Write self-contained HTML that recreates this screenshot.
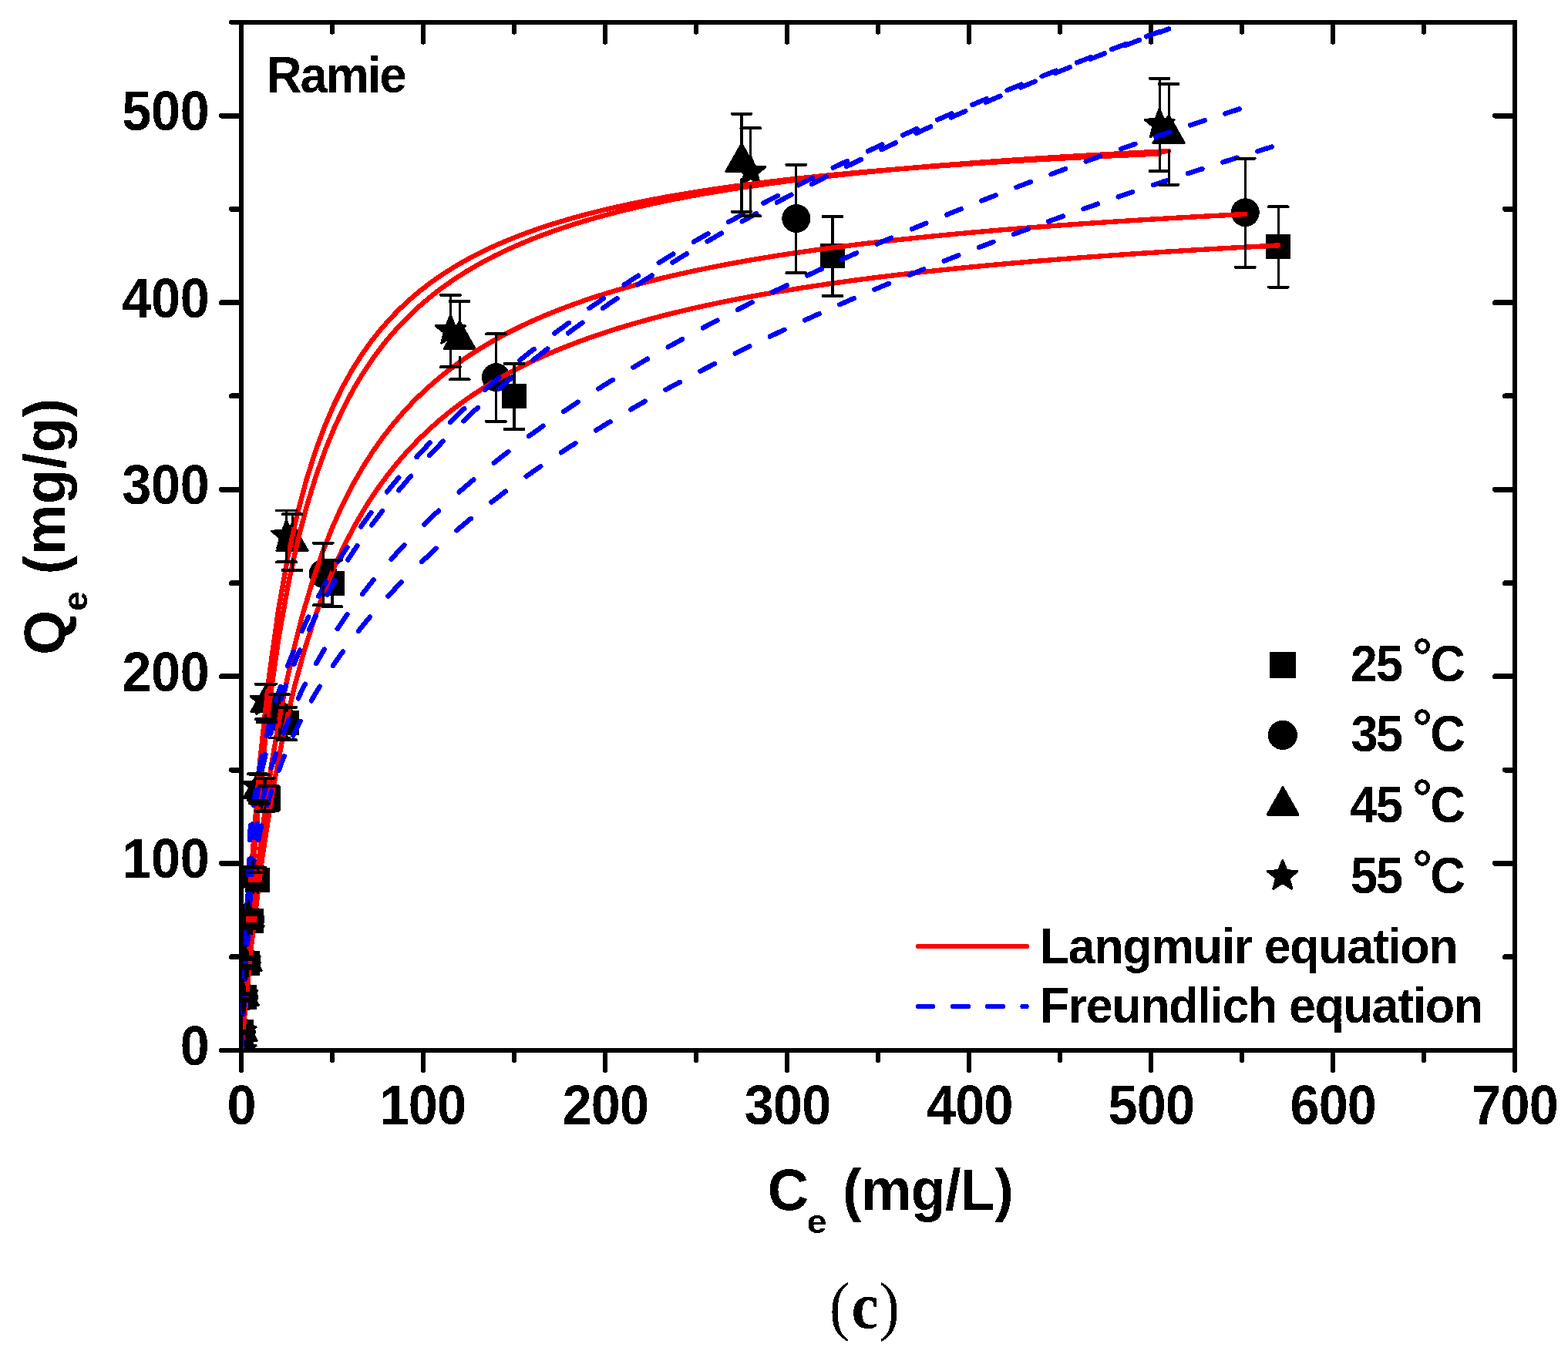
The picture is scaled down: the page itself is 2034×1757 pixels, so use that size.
<!DOCTYPE html>
<html lang="en"><head><meta charset="utf-8"><title>Ramie</title>
<style>html,body{margin:0;padding:0;background:#fff}body{width:2034px;height:1757px;overflow:hidden}svg{display:block}text{fill:#000}.b{stroke:#000;stroke-width:2.4px;stroke-linejoin:bevel}</style>
</head><body>
<svg width="2034" height="1757" viewBox="0 0 2034 1757">
<rect width="2034" height="1757" fill="#fff"/>
<defs><filter id="bw" filterUnits="userSpaceOnUse" x="0" y="0" width="2034" height="1757" color-interpolation-filters="sRGB"><feComponentTransfer><feFuncA type="discrete" tableValues="0 1"/></feComponentTransfer></filter><clipPath id="fr"><rect x="312" y="28.8" width="1653" height="1334.2"/></clipPath></defs>
<g fill="none" stroke="#000" stroke-linecap="round" shape-rendering="crispEdges">
<rect x="313" y="28.8" width="1652" height="1334.2" stroke-width="6" stroke-linejoin="miter"/>
<path d="M313 1364V1389M313 29.8V54.8M431 1364V1376M431 29.8V41.8M549 1364V1389M549 29.8V54.8M667 1364V1376M667 29.8V41.8M785 1364V1389M785 29.8V54.8M903 1364V1376M903 29.8V41.8M1021 1364V1389M1021 29.8V54.8M1139 1364V1376M1139 29.8V41.8M1257 1364V1389M1257 29.8V54.8M1375 1364V1376M1375 29.8V41.8M1493 1364V1389M1493 29.8V54.8M1611 1364V1376M1611 29.8V41.8M1729 1364V1389M1729 29.8V54.8M1847 1364V1376M1847 29.8V41.8M1965 1364V1389M1965 29.8V54.8M312 1363H287M1964 1363H1939M312 28.8H300M1964 28.8H1952" stroke-width="6"/>
<path d="M312 1241.71H300.5M1964 1241.71H1952.5M312 1120.42H287.5M1964 1120.42H1939.5M312 999.13H300.5M1964 999.13H1952.5M312 877.84H287.5M1964 877.84H1939.5M312 756.55H300.5M1964 756.55H1952.5M312 635.25H287.5M1964 635.25H1939.5M312 513.96H300.5M1964 513.96H1952.5M312 392.67H287.5M1964 392.67H1939.5M312 271.38H300.5M1964 271.38H1952.5M312 150.09H287.5M1964 150.09H1939.5" stroke-width="7"/>
</g>
<g clip-path="url(#fr)">
<g fill="#000" shape-rendering="crispEdges">
<rect x="297" y="1347" width="32" height="32"/>
<rect x="297.24" y="1322.98" width="32" height="32"/>
<rect x="301.01" y="1278.35" width="32" height="32"/>
<rect x="305.26" y="1234.2" width="32" height="32"/>
<rect x="310.45" y="1178.89" width="32" height="32"/>
<rect x="318.24" y="1126.25" width="32" height="32"/>
<rect x="332.4" y="1019.51" width="32" height="32"/>
<rect x="356" y="922.48" width="32" height="32"/>
<rect x="415" y="740.55" width="32" height="32"/>
<rect x="651" y="497.96" width="32" height="32"/>
<rect x="1064" y="316.03" width="32" height="32"/>
<rect x="1642.2" y="303.9" width="32" height="32"/>
<circle cx="313" cy="1363" r="18.5"/>
<circle cx="313.24" cy="1338.98" r="18.5"/>
<circle cx="316.3" cy="1293.62" r="18.5"/>
<circle cx="320.08" cy="1248.99" r="18.5"/>
<circle cx="324.8" cy="1193.19" r="18.5"/>
<circle cx="331.88" cy="1139.82" r="18.5"/>
<circle cx="343.68" cy="1030.66" r="18.5"/>
<circle cx="362.56" cy="928.78" r="18.5"/>
<circle cx="419.2" cy="744.42" r="18.5"/>
<circle cx="643.4" cy="489.71" r="18.5"/>
<circle cx="1032.8" cy="283.51" r="18.5"/>
<circle cx="1615.25" cy="275.75" r="18.5"/>
<polygon class="b" points="313,1338.4 333.7,1375.1 292.3,1375.1"/>
<polygon class="b" points="313.12,1314.26 333.82,1350.96 292.42,1350.96"/>
<polygon class="b" points="315.12,1267.81 335.82,1304.51 294.42,1304.51"/>
<polygon class="b" points="318.9,1223.17 339.6,1259.87 298.2,1259.87"/>
<polygon class="b" points="321.97,1165.68 342.67,1202.38 301.27,1202.38"/>
<polygon class="b" points="328.81,1112.07 349.51,1148.77 308.11,1148.77"/>
<polygon class="b" points="336.6,998.79 357.3,1035.49 315.9,1035.49"/>
<polygon class="b" points="346.04,887.2 366.74,923.9 325.34,923.9"/>
<polygon class="b" points="379.08,678.58 399.78,715.28 358.38,715.28"/>
<polygon class="b" points="596.2,416.59 616.9,453.29 575.5,453.29"/>
<polygon class="b" points="962,186.14 982.7,222.84 941.3,222.84"/>
<polygon class="b" points="1516.13,149.26 1536.83,185.96 1495.43,185.96"/>
<polygon class="b" points="313,1342.1 318.29,1355.72 332.88,1356.54 321.56,1365.78 325.28,1379.91 313,1372 300.72,1379.91 304.44,1365.78 293.12,1356.54 307.71,1355.72"/>
<polygon class="b" points="313.12,1317.96 318.41,1331.58 333,1332.4 321.68,1341.64 325.4,1355.77 313.12,1347.86 300.83,1355.77 304.56,1341.64 293.24,1332.4 307.83,1331.58"/>
<polygon class="b" points="314.65,1271.02 319.94,1284.64 334.53,1285.47 323.21,1294.7 326.94,1308.83 314.65,1300.92 302.37,1308.83 306.09,1294.7 294.77,1285.47 309.36,1284.64"/>
<polygon class="b" points="318.19,1226.15 323.48,1239.76 338.07,1240.59 326.75,1249.83 330.48,1263.95 318.19,1256.05 305.91,1263.95 309.63,1249.83 298.31,1240.59 312.9,1239.76"/>
<polygon class="b" points="321.02,1168.41 326.31,1182.03 340.9,1182.85 329.58,1192.09 333.31,1206.22 321.02,1198.31 308.74,1206.22 312.46,1192.09 301.15,1182.85 315.73,1182.03"/>
<polygon class="b" points="327.63,1114.56 332.92,1128.18 347.51,1129 336.19,1138.24 339.92,1152.37 327.63,1144.46 315.35,1152.37 319.07,1138.24 307.75,1129 322.34,1128.18"/>
<polygon class="b" points="334.24,1000.06 339.53,1013.68 354.12,1014.5 342.8,1023.74 346.52,1037.87 334.24,1029.96 321.96,1037.87 325.68,1023.74 314.36,1014.5 328.95,1013.68"/>
<polygon class="b" points="344.39,889.2 349.68,902.82 364.27,903.64 352.95,912.88 356.67,927.01 344.39,919.1 332.1,927.01 335.83,912.88 324.51,903.64 339.1,902.82"/>
<polygon class="b" points="371.53,674.51 376.82,688.13 391.41,688.96 380.09,698.2 383.81,712.32 371.53,704.41 359.24,712.32 362.97,698.2 351.65,688.96 366.24,688.13"/>
<polygon class="b" points="584.4,408.16 589.69,421.78 604.28,422.6 592.96,431.84 596.68,445.97 584.4,438.06 572.12,445.97 575.84,431.84 564.52,422.6 579.11,421.78"/>
<polygon class="b" points="973.8,201.97 979.09,215.58 993.68,216.41 982.36,225.65 986.08,239.77 973.8,231.87 961.52,239.77 965.24,225.65 953.92,216.41 968.51,215.58"/>
<polygon class="b" points="1504.09,140.59 1509.38,154.21 1523.97,155.03 1512.65,164.27 1516.38,178.4 1504.09,170.49 1491.81,178.4 1495.53,164.27 1484.21,155.03 1498.8,154.21"/>
</g>
<g fill="none" stroke="#f00" stroke-width="6.4" stroke-linecap="round" stroke-linejoin="round" shape-rendering="crispEdges">
<path d="M313 1363 L326.59 1222.3 L340.18 1113.06 L353.76 1025.79 L367.35 954.46 L380.94 895.08 L394.53 844.88 L408.12 801.87 L421.7 764.62 L435.29 732.04 L448.88 703.31 L462.47 677.78 L476.05 654.95 L489.64 634.4 L503.23 615.82 L516.82 598.93 L530.41 583.51 L543.99 569.38 L557.58 556.38 L571.17 544.39 L584.76 533.28 L598.35 522.97 L611.93 513.38 L625.52 504.42 L639.11 496.04 L652.7 488.19 L666.28 480.81 L679.87 473.87 L693.46 467.33 L707.05 461.15 L720.64 455.3 L734.22 449.77 L747.81 444.51 L761.4 439.52 L774.99 434.78 L788.58 430.26 L802.16 425.95 L815.75 421.83 L829.34 417.9 L842.93 414.14 L856.52 410.54 L870.1 407.09 L883.69 403.79 L897.28 400.61 L910.87 397.56 L924.45 394.63 L938.04 391.8 L951.63 389.09 L965.22 386.47 L978.81 383.94 L992.39 381.5 L1005.98 379.15 L1019.57 376.88 L1033.16 374.68 L1046.75 372.56 L1060.33 370.5 L1073.92 368.51 L1087.51 366.58 L1101.1 364.71 L1114.68 362.9 L1128.27 361.14 L1141.86 359.43 L1155.45 357.78 L1169.04 356.17 L1182.62 354.6 L1196.21 353.08 L1209.8 351.6 L1223.39 350.16 L1236.98 348.76 L1250.56 347.4 L1264.15 346.07 L1277.74 344.78 L1291.33 343.52 L1304.92 342.29 L1318.5 341.09 L1332.09 339.92 L1345.68 338.77 L1359.27 337.66 L1372.85 336.57 L1386.44 335.51 L1400.03 334.47 L1413.62 333.45 L1427.21 332.46 L1440.79 331.49 L1454.38 330.54 L1467.97 329.61 L1481.56 328.7 L1495.15 327.81 L1508.73 326.94 L1522.32 326.09 L1535.91 325.26 L1549.5 324.44 L1563.08 323.64 L1576.67 322.85 L1590.26 322.08 L1603.85 321.33 L1617.44 320.59 L1631.02 319.86 L1644.61 319.15 L1658.2 318.46"/>
<path d="M313 1363 L326.15 1204.72 L339.31 1084.63 L352.46 990.38 L365.62 914.46 L378.77 851.98 L391.92 799.67 L405.08 755.23 L418.23 717.01 L431.39 683.79 L444.54 654.65 L457.69 628.88 L470.85 605.92 L484 585.35 L497.16 566.8 L510.31 550 L523.46 534.7 L536.62 520.72 L549.77 507.89 L562.93 496.07 L576.08 485.15 L589.23 475.04 L602.39 465.63 L615.54 456.87 L628.7 448.69 L641.85 441.03 L655 433.85 L668.16 427.1 L681.31 420.74 L694.47 414.74 L707.62 409.07 L720.77 403.71 L733.93 398.62 L747.08 393.8 L760.24 389.21 L773.39 384.85 L786.54 380.69 L799.7 376.73 L812.85 372.94 L826.01 369.32 L839.16 365.86 L852.31 362.54 L865.47 359.36 L878.62 356.31 L891.78 353.39 L904.93 350.57 L918.08 347.86 L931.24 345.26 L944.39 342.75 L957.55 340.33 L970.7 338 L983.86 335.75 L997.01 333.57 L1010.16 331.47 L1023.32 329.44 L1036.47 327.48 L1049.63 325.58 L1062.78 323.74 L1075.93 321.95 L1089.09 320.22 L1102.24 318.55 L1115.4 316.92 L1128.55 315.34 L1141.7 313.8 L1154.86 312.31 L1168.01 310.87 L1181.17 309.46 L1194.32 308.09 L1207.47 306.75 L1220.63 305.46 L1233.78 304.19 L1246.94 302.96 L1260.09 301.76 L1273.24 300.59 L1286.4 299.45 L1299.55 298.34 L1312.71 297.25 L1325.86 296.19 L1339.01 295.16 L1352.17 294.15 L1365.32 293.16 L1378.48 292.2 L1391.63 291.26 L1404.78 290.34 L1417.94 289.44 L1431.09 288.56 L1444.25 287.7 L1457.4 286.85 L1470.55 286.03 L1483.71 285.22 L1496.86 284.43 L1510.02 283.65 L1523.17 282.89 L1536.32 282.15 L1549.48 281.42 L1562.63 280.71 L1575.79 280.01 L1588.94 279.32 L1602.09 278.64 L1615.25 277.98"/>
<path d="M313 1363 L325.15 1163.67 L337.31 1020.03 L349.46 911.6 L361.61 826.84 L373.76 758.77 L385.92 702.9 L398.07 656.22 L410.22 616.63 L422.38 582.64 L434.53 553.13 L446.68 527.27 L458.83 504.43 L470.99 484.1 L483.14 465.89 L495.29 449.49 L507.44 434.64 L519.6 421.14 L531.75 408.79 L543.9 397.47 L556.06 387.05 L568.21 377.43 L580.36 368.51 L592.51 360.23 L604.67 352.52 L616.82 345.31 L628.97 338.57 L641.13 332.25 L653.28 326.31 L665.43 320.72 L677.58 315.45 L689.74 310.46 L701.89 305.75 L714.04 301.28 L726.2 297.04 L738.35 293.02 L750.5 289.18 L762.65 285.53 L774.81 282.05 L786.96 278.73 L799.11 275.55 L811.27 272.51 L823.42 269.61 L835.57 266.82 L847.72 264.14 L859.88 261.57 L872.03 259.1 L884.18 256.73 L896.33 254.45 L908.49 252.25 L920.64 250.13 L932.79 248.08 L944.95 246.11 L957.1 244.2 L969.25 242.36 L981.4 240.58 L993.56 238.86 L1005.71 237.19 L1017.86 235.58 L1030.02 234.02 L1042.17 232.5 L1054.32 231.03 L1066.47 229.61 L1078.63 228.22 L1090.78 226.88 L1102.93 225.57 L1115.09 224.31 L1127.24 223.07 L1139.39 221.87 L1151.54 220.7 L1163.7 219.57 L1175.85 218.46 L1188 217.38 L1200.15 216.33 L1212.31 215.31 L1224.46 214.31 L1236.61 213.34 L1248.77 212.39 L1260.92 211.46 L1273.07 210.56 L1285.22 209.67 L1297.38 208.81 L1309.53 207.97 L1321.68 207.14 L1333.84 206.34 L1345.99 205.55 L1358.14 204.78 L1370.29 204.02 L1382.45 203.28 L1394.6 202.56 L1406.75 201.86 L1418.91 201.16 L1431.06 200.49 L1443.21 199.82 L1455.36 199.17 L1467.52 198.53 L1479.67 197.91 L1491.82 197.29 L1503.98 196.69 L1516.13 196.1"/>
<path d="M313 1363 L325.03 1142.48 L337.06 989.63 L349.09 877.46 L361.12 791.62 L373.16 723.83 L385.19 668.93 L397.22 623.56 L409.25 585.44 L421.28 552.96 L433.31 524.96 L445.34 500.57 L457.37 479.13 L469.41 460.14 L481.44 443.19 L493.47 427.99 L505.5 414.27 L517.53 401.82 L529.56 390.48 L541.59 380.1 L553.62 370.57 L565.66 361.79 L577.69 353.67 L589.72 346.14 L601.75 339.14 L613.78 332.61 L625.81 326.51 L637.84 320.79 L649.87 315.43 L661.91 310.39 L673.94 305.64 L685.97 301.16 L698 296.92 L710.03 292.91 L722.06 289.11 L734.09 285.5 L746.12 282.07 L758.16 278.8 L770.19 275.69 L782.22 272.72 L794.25 269.88 L806.28 267.17 L818.31 264.57 L830.34 262.09 L842.37 259.71 L854.41 257.42 L866.44 255.22 L878.47 253.11 L890.5 251.08 L902.53 249.12 L914.56 247.24 L926.59 245.43 L938.62 243.67 L950.66 241.98 L962.69 240.35 L974.72 238.77 L986.75 237.25 L998.78 235.77 L1010.81 234.34 L1022.84 232.96 L1034.87 231.62 L1046.91 230.32 L1058.94 229.06 L1070.97 227.83 L1083 226.65 L1095.03 225.49 L1107.06 224.37 L1119.09 223.28 L1131.12 222.22 L1143.16 221.19 L1155.19 220.19 L1167.22 219.21 L1179.25 218.26 L1191.28 217.34 L1203.31 216.43 L1215.34 215.55 L1227.37 214.69 L1239.4 213.86 L1251.44 213.04 L1263.47 212.24 L1275.5 211.47 L1287.53 210.7 L1299.56 209.96 L1311.59 209.24 L1323.62 208.53 L1335.65 207.83 L1347.69 207.16 L1359.72 206.49 L1371.75 205.84 L1383.78 205.21 L1395.81 204.59 L1407.84 203.98 L1419.87 203.38 L1431.9 202.8 L1443.94 202.23 L1455.97 201.67 L1468 201.12 L1480.03 200.58 L1492.06 200.05 L1504.09 199.53"/>
</g>
<g fill="none" stroke="#00f" stroke-width="6.4" stroke-linecap="round" stroke-linejoin="round" shape-rendering="crispEdges">
<path d="M313.12 1361 L314.2 1342.5M315.76 1315.83 L316.84 1297.33M318.41 1270.66 L319.49 1252.16M321.05 1225.49 L322.13 1206.99M323.69 1180.32 L324.78 1161.82M326.34 1135.15 L326.59 1130.9 L329.6 1116.65M335.23 1089.98 L339.14 1071.48M346.66 1044.81 L352.17 1026.31M361.69 999.64 L367.35 984.4 L368.78 981.14M380.46 954.47 L380.94 953.38 L389.63 935.97M403.9 909.3 L408.12 901.73 L414.78 890.8M431.85 864.13 L435.29 858.94 L444.76 845.63M464.87 818.96 L476.05 805.07 L479.97 800.46M503.31 773.79 L516.82 759.35 L520.78 755.29M547.22 729.02 L557.58 719.22 L565.72 711.79M592.39 688.31 L598.35 683.23 L610.89 672.83M637.56 651.63 L639.11 650.42 L652.7 640.08 L656.06 637.58M682.73 618.15 L693.46 610.58 L701.23 605.21M727.9 587.23 L734.22 583.05 L746.4 575.17M773.07 558.39 L774.99 557.2 L788.58 548.92 L791.57 547.12M818.24 531.35 L829.34 524.94 L836.74 520.73M863.41 505.84 L870.1 502.16 L881.91 495.77M908.58 481.63 L910.87 480.43 L924.45 473.41 L927.08 472.07M953.75 458.59 L965.22 452.91 L972.25 449.47M998.92 436.59 L1005.98 433.23 L1017.42 427.84M1044.09 415.49 L1046.75 414.28 L1060.33 408.11 L1062.59 407.1M1089.26 395.23 L1101.1 390.04 L1107.76 387.15M1134.43 375.72 L1141.86 372.57 L1152.93 367.92M1179.6 356.88 L1182.62 355.64 L1196.21 350.12 L1198.1 349.35M1224.77 338.68 L1236.98 333.86 L1243.27 331.39M1269.94 321.05 L1277.74 318.05 L1288.44 313.98M1315.11 303.94 L1318.5 302.68 L1332.09 297.64 L1333.61 297.08M1360.28 287.33 L1372.85 282.79 L1378.78 280.67M1405.45 271.18 L1413.62 268.31 L1423.95 264.69M1450.62 255.46 L1454.38 254.16 L1467.97 249.52 L1469.12 249.13M1495.79 240.13 L1508.73 235.81 L1514.29 233.96M1540.96 225.18 L1549.5 222.39 L1559.46 219.16M1586.13 210.58 L1590.26 209.26 L1603.85 204.94 L1604.63 204.69M1631.3 196.31 L1644.61 192.16 L1649.8 190.56"/>
<path d="M313.26 1358 L314.22 1339.5M315.61 1312.83 L316.57 1294.33M317.96 1267.66 L318.92 1249.16M320.31 1222.49 L321.27 1203.99M322.66 1177.32 L323.62 1158.82M325.01 1132.15 L325.97 1113.65M330.64 1086.98 L334.23 1068.48M339.43 1041.81 L344.51 1023.31M351.83 996.64 L352.46 994.35 L358.04 978.14M367.5 951.47 L375.01 932.97M386.84 906.3 L391.92 895.35 L395.83 887.8M410.09 861.13 L418.23 846.82 L420.82 842.63M437.74 815.96 L444.54 805.73 L450.41 797.46M470.06 770.79 L470.85 769.75 L484 753.23 L484.79 752.29M507.6 725.62 L510.31 722.53 L523.46 708.19 L524.48 707.12M550.5 680.47 L562.93 668.4 L569 662.71M595.67 638.47 L602.39 632.56 L614.17 622.51M640.84 600.62 L641.85 599.8 L655 589.46 L659.34 586.14M686.01 566.1 L694.47 559.92 L704.51 552.75M731.18 534.21 L733.93 532.33 L747.08 523.51 L749.68 521.8M776.35 504.51 L786.54 498.06 L794.85 492.9M821.52 476.66 L826.01 473.97 L839.16 466.21 L840.02 465.71M866.69 450.38 L878.62 443.67 L885.19 440.04M911.86 425.49 L918.08 422.15 L930.36 415.64M957.03 401.79 L957.55 401.52 L970.7 394.83 L975.53 392.41M1002.2 379.17 L1010.16 375.28 L1020.7 370.19M1047.37 357.5 L1049.63 356.44 L1062.78 350.3 L1065.87 348.88M1092.54 336.69 L1102.24 332.32 L1111.04 328.4M1137.71 316.66 L1141.7 314.91 L1154.86 309.23 L1156.21 308.66M1182.88 297.33 L1194.32 292.54 L1201.38 289.61M1228.05 278.65 L1233.78 276.32 L1246.55 271.17M1273.22 260.57 L1273.24 260.56 L1286.4 255.4 L1291.72 253.33M1318.39 243.04 L1325.86 240.19 L1336.89 236.01M1363.56 226.02 L1365.32 225.36 L1378.48 220.5 L1382.06 219.19M1408.73 209.47 L1417.94 206.15 L1427.23 202.83M1453.9 193.37 L1457.4 192.14 L1470.55 187.53 L1472.4 186.89M1499.07 177.68 L1510.02 173.93 L1517.57 171.37M1544.24 162.38 L1549.48 160.62 L1562.63 156.25 L1562.74 156.21M1589.41 147.44 L1602.09 143.3 L1607.91 141.42"/>
<path d="M313.17 1359 L313.98 1340.5M315.14 1313.83 L315.95 1295.33M317.11 1268.66 L317.91 1250.16M319.07 1223.49 L319.88 1204.99M321.04 1178.32 L321.84 1159.82M323 1133.15 L323.81 1114.65M324.97 1087.98 L325.15 1083.79 L327.51 1069.48M331.89 1042.81 L334.93 1024.31M340.16 997.64 L344.48 979.14M351.02 952.47 L356.44 933.97M364.73 907.3 L371.14 888.8M381.32 862.13 L385.92 850.51 L388.96 843.63M401.01 816.96 L410.01 798.46M424.2 771.79 L434.53 753.62 L434.73 753.29M451.19 726.62 L458.83 714.78 L463.37 708.12M482.1 681.45 L483.14 680.01 L495.29 663.85 L496 662.95M517.36 636.28 L519.6 633.55 L531.75 619.28 L533.07 617.78M557.12 591.11 L568.21 579.38 L574.82 572.61M601.35 546.31 L604.67 543.1 L616.82 531.68 L619.85 528.9M646.52 505.01 L653.28 499.12 L665.02 489.13M691.69 467.24 L701.89 459.12 L710.19 452.65M736.86 432.36 L738.35 431.24 L750.5 422.3 L755.36 418.8M782.03 399.87 L786.96 396.43 L799.11 388.1 L800.53 387.15M827.2 369.38 L835.57 363.91 L845.7 357.39M872.37 340.6 L884.18 333.33 L890.87 329.27M917.54 313.33 L920.64 311.5 L932.79 304.42 L936.04 302.55M962.71 287.38 L969.25 283.71 L981.21 277.09M1007.88 262.59 L1017.86 257.25 L1026.38 252.75M1053.05 238.84 L1054.32 238.19 L1066.47 231.97 L1071.55 229.4M1098.22 216.04 L1102.93 213.71 L1115.09 207.75 L1116.72 206.95M1143.39 194.09 L1151.54 190.21 L1161.89 185.33M1188.56 172.91 L1200.15 167.59 L1207.06 164.45M1233.73 152.45 L1236.61 151.16 L1248.77 145.78 L1252.23 144.26M1278.9 132.64 L1285.22 129.91 L1297.38 124.7 L1297.4 124.69M1324.07 113.42 L1333.84 109.34 L1342.57 105.72M1369.24 94.77 L1370.29 94.34 L1382.45 89.42 L1387.74 87.29M1414.41 76.65 L1418.91 74.86 L1431.06 70.08 L1432.91 69.36M1459.58 59 L1467.52 55.94 L1478.08 51.9M1504.75 41.81 L1516.13 37.54"/>
<path d="M313.08 1361 L313.84 1342.5M314.92 1315.83 L315.68 1297.33M316.77 1270.66 L317.52 1252.16M318.61 1225.49 L319.36 1206.99M320.45 1180.32 L321.21 1161.82M322.3 1135.15 L323.05 1116.65M324.14 1089.98 L324.89 1071.48M328.77 1044.81 L331.75 1026.31M336.03 999.64 L337.06 993.21 L339.84 981.14M345.97 954.47 L349.09 940.88 L350.51 935.97M358.23 909.3 L361.12 899.31 L364.05 890.8M373.21 864.13 L380.49 845.63M391.67 818.96 L397.22 806.37 L400.09 800.46M413.36 773.79 L421.28 758.78 L423.26 755.29M438.8 728.62 L445.34 717.87 L450.36 710.12M468.21 683.45 L469.41 681.71 L481.44 665.02 L481.49 664.95M502.05 638.28 L505.5 633.92 L517.18 619.78M540.47 593.11 L541.59 591.85 L553.62 578.83 L557.66 574.61M583.79 548.04 L589.72 542.22 L601.75 530.74 L602.29 530.23M628.96 505.93 L637.84 498.11 L647.46 489.85M674.13 467.69 L685.97 458.21 L692.63 452.99M719.3 432.59 L722.06 430.51 L734.09 421.65 L737.8 418.96M764.47 400.01 L770.19 396.03 L782.22 387.8 L782.97 387.29M809.64 369.56 L818.31 363.92 L828.14 357.62M854.81 340.91 L866.44 333.8 L873.31 329.65M899.98 313.84 L902.53 312.35 L914.56 305.4 L918.48 303.16M945.15 288.14 L950.66 285.09 L962.69 278.49 L963.65 277.97M990.32 263.65 L998.78 259.18 L1008.82 253.93M1035.49 240.23 L1046.91 234.47 L1053.99 230.93M1080.66 217.78 L1083 216.64 L1095.03 210.82 L1099.16 208.84M1125.83 196.2 L1131.12 193.72 L1143.16 188.14 L1144.33 187.6M1171 175.42 L1179.25 171.7 L1189.5 167.12M1216.17 155.36 L1227.37 150.49 L1234.67 147.34M1261.34 135.96 L1263.47 135.06 L1275.5 130.01 L1279.84 128.2M1306.51 117.18 L1311.59 115.1 L1323.62 110.22 L1325.01 109.66M1351.68 98.97 L1359.72 95.78 L1370.18 91.66M1396.85 81.28 L1407.84 77.05 L1415.35 74.18M1442.02 64.08 L1443.94 63.36 L1455.97 58.86 L1460.52 57.17M1487.19 47.34 L1492.06 45.56 L1504.09 41.18"/>
</g>
<g fill="none" stroke="#000" stroke-linecap="round" shape-rendering="crispEdges">
<path d="M313 1347.5V1363.5M313 1379.5V1363.5M313.24 1323.48V1338.28M313.24 1355.48V1340.69M317.01 1278.85V1291.42M317.01 1310.85V1298.28M321.26 1234.7V1245.06M321.26 1266.7V1256.34M326.45 1179.39V1186.99M326.45 1211.39V1203.8M334.24 1126.75V1131.71M334.24 1158.75V1153.79M348.4 1020.01V1019.64M348.4 1052.01V1052.39M372 922.98V917.76M372 954.98V960.21M431 741.05V726.72M431 773.05V787.37M667 498.46V472.01M667 530.46V556.92M1080 316.53V280.98M1080 348.53V384.08M1658.2 304.4V268.24M1658.2 336.4V372.55M313 1346.9V1363.5M313 1380.1V1363.5M313.24 1322.88V1337.92M313.24 1356.08V1341.05M316.3 1277.52V1289.61M316.3 1310.72V1298.63M320.08 1232.89V1242.08M320.08 1266.09V1256.9M324.8 1177.09V1182.66M324.8 1210.29V1204.73M331.88 1123.72V1125.82M331.88 1156.92V1154.83M343.68 1014.56V1009.56M343.68 1047.76V1052.76M362.56 912.68V901.05M362.56 945.88V957.5M419.2 728.32V704.71M419.2 761.52V785.12M643.4 473.61V433.44M643.4 506.81V546.97M1032.8 267.41V213.84M1032.8 300.61V354.18M1615.25 259.65V205.58M1615.25 292.85V346.92M313 1342.1V1363.5M313 1384.9V1363.5M313.12 1317.96V1338.04M313.12 1360.76V1340.69M315.12 1271.51V1289.03M315.12 1314.31V1296.79M318.9 1226.87V1241.94M318.9 1269.67V1254.61M321.97 1169.38V1181.28M321.97 1212.18V1200.28M328.81 1115.77V1124.72M328.81 1158.57V1149.62M336.6 1002.49V1005.21M336.6 1045.29V1042.56M346.04 890.9V887.48M346.04 933.7V937.11M379.08 682.28V667.39M379.08 725.08V739.97M596.2 420.29V390.99M596.2 463.09V492.39M962 189.84V147.86M962 232.64V274.61M1516.13 152.96V108.96M1516.13 195.76V239.77M313 1346V1363.5M313 1381V1363.5M313.12 1321.86V1338.16M313.12 1356.86V1340.57M314.65 1274.92V1288.87M314.65 1309.92V1295.98M318.19 1230.05V1241.75M318.19 1265.05V1253.34M321.02 1172.31V1181.13M321.02 1207.31V1198.5M327.63 1118.46V1124.58M327.63 1153.46V1147.34M334.24 1003.96V1004.36M334.24 1038.96V1038.56M344.39 893.1V887.95M344.39 928.1V933.24M371.53 678.41V662.54M371.53 713.41V729.29M584.4 412.06V382.86M584.4 447.06V476.26M973.8 205.87V166.36M973.8 240.87V280.37M1504.09 144.49V101.92M1504.09 179.49V222.07" stroke-width="3.1"/>
<path d="M300.5 1363.5H325.5M300.5 1363.5H325.5M300.74 1338.28H325.74M300.74 1340.69H325.74M304.51 1291.42H329.51M304.51 1298.28H329.51M308.76 1245.06H333.76M308.76 1256.34H333.76M313.95 1186.99H338.95M313.95 1203.8H338.95M321.74 1131.71H346.74M321.74 1153.79H346.74M335.9 1019.64H360.9M335.9 1052.39H360.9M359.5 917.76H384.5M359.5 960.21H384.5M418.5 726.72H443.5M418.5 787.37H443.5M654.5 472.01H679.5M654.5 556.92H679.5M1067.5 280.98H1092.5M1067.5 384.08H1092.5M1645.7 268.24H1670.7M1645.7 372.55H1670.7M300.5 1363.5H325.5M300.5 1363.5H325.5M300.74 1337.92H325.74M300.74 1341.05H325.74M303.8 1289.61H328.8M303.8 1298.63H328.8M307.58 1242.08H332.58M307.58 1256.9H332.58M312.3 1182.66H337.3M312.3 1204.73H337.3M319.38 1125.82H344.38M319.38 1154.83H344.38M331.18 1009.56H356.18M331.18 1052.76H356.18M350.06 901.05H375.06M350.06 957.5H375.06M406.7 704.71H431.7M406.7 785.12H431.7M630.9 433.44H655.9M630.9 546.97H655.9M1020.3 213.84H1045.3M1020.3 354.18H1045.3M1602.75 205.58H1627.75M1602.75 346.92H1627.75M300.5 1363.5H325.5M300.5 1363.5H325.5M300.62 1338.04H325.62M300.62 1340.69H325.62M302.62 1289.03H327.62M302.62 1296.79H327.62M306.4 1241.94H331.4M306.4 1254.61H331.4M309.47 1181.28H334.47M309.47 1200.28H334.47M316.31 1124.72H341.31M316.31 1149.62H341.31M324.1 1005.21H349.1M324.1 1042.56H349.1M333.54 887.48H358.54M333.54 937.11H358.54M366.58 667.39H391.58M366.58 739.97H391.58M583.7 390.99H608.7M583.7 492.39H608.7M949.5 147.86H974.5M949.5 274.61H974.5M1503.63 108.96H1528.63M1503.63 239.77H1528.63M300.5 1363.5H325.5M300.5 1363.5H325.5M300.62 1338.16H325.62M300.62 1340.57H325.62M302.15 1288.87H327.15M302.15 1295.98H327.15M305.69 1241.75H330.69M305.69 1253.34H330.69M308.52 1181.13H333.52M308.52 1198.5H333.52M315.13 1124.58H340.13M315.13 1147.34H340.13M321.74 1004.36H346.74M321.74 1038.56H346.74M331.89 887.95H356.89M331.89 933.24H356.89M359.03 662.54H384.03M359.03 729.29H384.03M571.9 382.86H596.9M571.9 476.26H596.9M961.3 166.36H986.3M961.3 280.37H986.3M1491.59 101.92H1516.59M1491.59 222.07H1516.59" stroke-width="3.9"/>
</g>
</g>
<g filter="url(#bw)">
<text transform="translate(233.86 1381.9) scale(0.95 1)" style="font-family:'Liberation Sans',sans-serif;font-weight:bold;font-kerning:none;font-size:72px;letter-spacing:-0.21px">0</text>
<text transform="translate(158.18 1139.32) scale(0.95 1)" style="font-family:'Liberation Sans',sans-serif;font-weight:bold;font-kerning:none;font-size:72px;letter-spacing:-0.21px">100</text>
<text transform="translate(158.18 896.74) scale(0.95 1)" style="font-family:'Liberation Sans',sans-serif;font-weight:bold;font-kerning:none;font-size:72px;letter-spacing:-0.21px">200</text>
<text transform="translate(158.18 654.15) scale(0.95 1)" style="font-family:'Liberation Sans',sans-serif;font-weight:bold;font-kerning:none;font-size:72px;letter-spacing:-0.21px">300</text>
<text transform="translate(158.18 411.57) scale(0.95 1)" style="font-family:'Liberation Sans',sans-serif;font-weight:bold;font-kerning:none;font-size:72px;letter-spacing:-0.21px">400</text>
<text transform="translate(158.18 168.99) scale(0.95 1)" style="font-family:'Liberation Sans',sans-serif;font-weight:bold;font-kerning:none;font-size:72px;letter-spacing:-0.21px">500</text>
<text transform="translate(294.53 1459) scale(0.95 1)" style="font-family:'Liberation Sans',sans-serif;font-weight:bold;font-kerning:none;font-size:72px;letter-spacing:0px">0</text>
<text transform="translate(492.49 1459) scale(0.95 1)" style="font-family:'Liberation Sans',sans-serif;font-weight:bold;font-kerning:none;font-size:72px;letter-spacing:-0.84px">100</text>
<text transform="translate(729.46 1459) scale(0.95 1)" style="font-family:'Liberation Sans',sans-serif;font-weight:bold;font-kerning:none;font-size:72px;letter-spacing:-0.84px">200</text>
<text transform="translate(965.86 1459) scale(0.95 1)" style="font-family:'Liberation Sans',sans-serif;font-weight:bold;font-kerning:none;font-size:72px;letter-spacing:-0.84px">300</text>
<text transform="translate(1202.12 1459) scale(0.95 1)" style="font-family:'Liberation Sans',sans-serif;font-weight:bold;font-kerning:none;font-size:72px;letter-spacing:-0.84px">400</text>
<text transform="translate(1437.59 1459) scale(0.95 1)" style="font-family:'Liberation Sans',sans-serif;font-weight:bold;font-kerning:none;font-size:72px;letter-spacing:-0.84px">500</text>
<text transform="translate(1673.39 1459) scale(0.95 1)" style="font-family:'Liberation Sans',sans-serif;font-weight:bold;font-kerning:none;font-size:72px;letter-spacing:-0.84px">600</text>
<text transform="translate(1909.17 1459) scale(0.95 1)" style="font-family:'Liberation Sans',sans-serif;font-weight:bold;font-kerning:none;font-size:72px;letter-spacing:-0.84px">700</text>
<text transform="translate(345.76 120) scale(0.96 1)" style="font-family:'Liberation Sans',sans-serif;font-weight:bold;font-kerning:none;font-size:66px;letter-spacing:-2.15px">Ramie</text>
</g>
<g fill="#000" shape-rendering="crispEdges">
<rect x="1647" y="846" width="34" height="34"/>
<circle cx="1663.8" cy="953.9" r="19.1"/>
<polygon class="b" points="1664.1,1021.05 1684.59,1057.38 1643.61,1057.38"/>
<polygon class="b" points="1663.8,1115.6 1669.17,1129.41 1683.96,1130.25 1672.48,1139.62 1676.26,1153.95 1663.8,1145.93 1651.34,1153.95 1655.12,1139.62 1643.64,1130.25 1658.43,1129.41"/>
</g>
<path d="M1191.2 1228H1331.8" stroke="#f00" stroke-width="6.3" stroke-linecap="round" fill="none" shape-rendering="crispEdges"/>
<path d="M1191.2 1306H1210M1236 1306H1256M1281 1306H1301M1326.5 1306H1331.5" stroke="#00f" stroke-width="6.3" stroke-linecap="round" fill="none" shape-rendering="crispEdges"/>
<g filter="url(#bw)">
<text transform="translate(0 883.7) scale(0.95 1)" style="font-family:'Liberation Sans',sans-serif;font-weight:bold;font-kerning:none;font-size:66.3px" xml:space="preserve"><tspan x="1843.91" y="0" style="letter-spacing:-1.81px">25</tspan><tspan style="font-size:19.89px"> </tspan><tspan x="1928.98" y="-8.76">°</tspan><tspan x="1952.86" y="0">C</tspan></text>
<text transform="translate(0 975.3) scale(0.95 1)" style="font-family:'Liberation Sans',sans-serif;font-weight:bold;font-kerning:none;font-size:66.3px" xml:space="preserve"><tspan x="1844.69" y="0" style="letter-spacing:-2.59px">35</tspan><tspan style="font-size:19.89px"> </tspan><tspan x="1928.98" y="-8.76">°</tspan><tspan x="1952.86" y="0">C</tspan></text>
<text transform="translate(0 1066.9) scale(0.95 1)" style="font-family:'Liberation Sans',sans-serif;font-weight:bold;font-kerning:none;font-size:66.3px" xml:space="preserve"><tspan x="1843.42" y="0" style="letter-spacing:-1.32px">45</tspan><tspan style="font-size:19.89px"> </tspan><tspan x="1928.98" y="-8.76">°</tspan><tspan x="1952.86" y="0">C</tspan></text>
<text transform="translate(0 1158.6) scale(0.95 1)" style="font-family:'Liberation Sans',sans-serif;font-weight:bold;font-kerning:none;font-size:66.3px" xml:space="preserve"><tspan x="1844.17" y="0" style="letter-spacing:-2.07px">55</tspan><tspan style="font-size:19.89px"> </tspan><tspan x="1928.98" y="-8.76">°</tspan><tspan x="1952.86" y="0">C</tspan></text>
<text transform="translate(1348.69 1249.6) scale(0.96 1)" style="font-family:'Liberation Sans',sans-serif;font-weight:bold;font-kerning:none;font-size:65.5px;letter-spacing:-1.49px">Langmuir equation</text>
<text transform="translate(1348.69 1327.4) scale(0.96 1)" style="font-family:'Liberation Sans',sans-serif;font-weight:bold;font-kerning:none;font-size:65.5px;letter-spacing:-1.46px">Freundlich equation</text>
<text transform="translate(0 1570.4) scale(0.96 1)" style="font-family:'Liberation Sans',sans-serif;font-weight:bold;font-kerning:none" xml:space="preserve"><tspan x="1037.27" y="0" textLength="55.46" lengthAdjust="spacingAndGlyphs" style="font-size:76.5px">C</tspan><tspan x="1090.49" y="29.2" textLength="27.11" lengthAdjust="spacingAndGlyphs" style="font-size:42px">e</tspan><tspan style="font-size:1px"> </tspan><tspan x="1138.59" y="0" style="font-size:76.5px;letter-spacing:-0.57px">(mg/L)</tspan></text>
<text transform="translate(84.3 860) rotate(-90) scale(0.96 1)" style="font-family:'Liberation Sans',sans-serif;font-weight:bold;font-kerning:none" xml:space="preserve"><tspan x="10.46" y="0" textLength="60.4" lengthAdjust="spacingAndGlyphs" style="font-size:76.5px">Q</tspan><tspan x="70" y="28.6" textLength="26.63" lengthAdjust="spacingAndGlyphs" style="font-size:44px">e</tspan><tspan style="font-size:1px"> </tspan><tspan x="119.31" y="0" style="font-size:76.5px;letter-spacing:0.89px">(mg/g)</tspan></text>
<text transform="translate(0 1722.6) scale(0.93 1)" style="font-family:'Liberation Serif',serif;font-kerning:none;font-size:84.5px"><tspan x="1157.04">(</tspan><tspan x="1187.65" style="font-weight:bold">c</tspan><tspan x="1226.74">)</tspan></text>
</g>
</svg>
</body></html>
